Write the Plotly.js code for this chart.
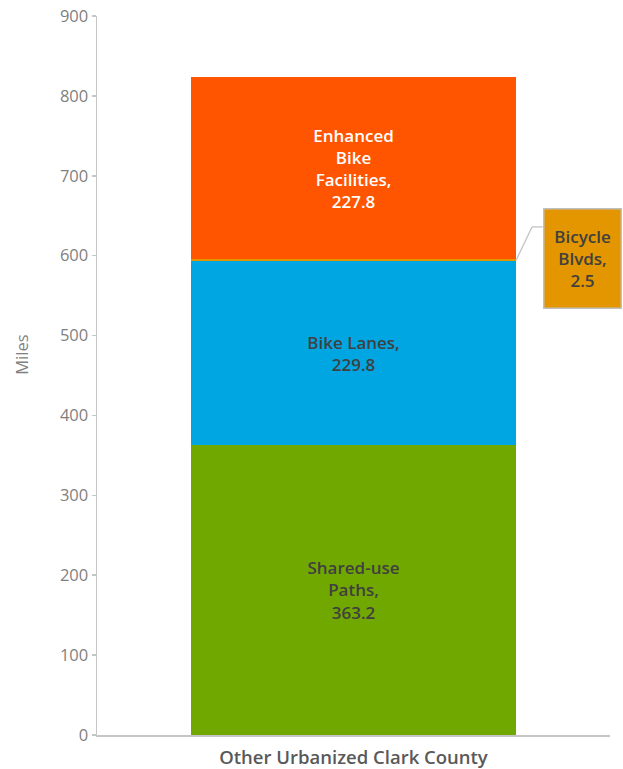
<!DOCTYPE html>
<html>
<head>
<meta charset="utf-8">
<script src="https://cdn.plot.ly/plotly-3.0.1.min.js"></script>
<style>
  html, body { margin: 0; padding: 0; background: #ffffff; }
  #chart { width: 623px; height: 769px; }
</style>
</head>
<body>
<div id="chart"></div>
<script>
// ---- Data ----
const categories = ["Other Urbanized Clark County"];
const seriesNames = ["Shared-use Paths", "Bike Lanes", "Bicycle Blvds", "Enhanced Bike Facilities"];
const sharedUsePaths = [363.2];
const bikeLanes = [229.8];
const bicycleBlvds = [2.5];
const enhancedBikeFacilities = [227.8];
const labelPrefixes = ["Shared-use<br>Paths,", "Bike Lanes,", "Bicycle<br>Blvds,", "Enhanced<br>Bike<br>Facilities,"];
const yTickVals = [0, 100, 200, 300, 400, 500, 600, 700, 800, 900];
const yAxisTitle = "Miles";

// ---- Styles ----
const FONT = "'Open Sans', Lato, sans-serif";
const colors = ["#70A800", "#00A6E2", "#E39600", "#FF5500"];
const textColors = ["#404040", "#404040", "#404040", "#ffffff"];
const axisGray = "#c6c6c6";
const bargap = 0.366;
const halfBar = (1 - bargap) / 2;

const seriesValues = [sharedUsePaths, bikeLanes, bicycleBlvds, enhancedBikeFacilities];

const traces = seriesValues.map((vals, i) => ({
  type: "bar",
  name: seriesNames[i],
  x: categories,
  y: vals,
  marker: { color: colors[i], line: { width: 0 } },
  text: i === 2 ? vals.map(() => "") : vals.map(v => labelPrefixes[i] + "<br>" + v.toFixed(1)),
  textposition: i === 2 ? "none" : "inside",
  insidetextanchor: "middle",
  textangle: 0,
  constraintext: "none",
  textfont: { family: FONT, size: 17, color: textColors[i], weight: 600 },
  hoverinfo: "name+y"
}));

const blvdMid = sharedUsePaths[0] + bikeLanes[0] + bicycleBlvds[0] / 2;
const elbowY = 636;
const elbowX = 0.348;
const boxX = 0.369;

const layout = {
  width: 623,
  height: 769,
  margin: { l: 97, r: 13, t: 16, b: 34 },
  paper_bgcolor: "#ffffff",
  plot_bgcolor: "#ffffff",
  barmode: "stack",
  bargap: bargap,
  showlegend: false,
  font: { family: FONT, color: "#7f7f7f" },
  xaxis: {
    type: "category",
    range: [-0.5, 0.5],
    showline: true,
    linecolor: axisGray,
    linewidth: 1.5,
    ticks: "",
    ticklabelstandoff: 5,
    showgrid: false,
    zeroline: false,
    tickfont: { family: FONT, size: 18.5, color: "#595959", weight: 600 },
    fixedrange: true
  },
  yaxis: {
    range: [0, 900],
    tickvals: yTickVals,
    ticktext: yTickVals.map(String),
    showline: true,
    linecolor: axisGray,
    linewidth: 1.5,
    ticks: "outside",
    ticklen: 4,
    tickwidth: 1.5,
    tickcolor: axisGray,
    showgrid: false,
    zeroline: false,
    tickfont: { family: FONT, size: 16.5, color: "#7f7f7f" },
    fixedrange: true
  },
  shapes: [
    { type: "line", xref: "x", yref: "y", x0: halfBar, y0: blvdMid, x1: elbowX, y1: elbowY,
      line: { color: "#bfbfbf", width: 1.2 } },
    { type: "line", xref: "x", yref: "y", x0: elbowX, y0: elbowY, x1: boxX, y1: elbowY,
      line: { color: "#bfbfbf", width: 1.2 } }
  ],
  annotations: [
    {
      xref: "x", yref: "y",
      x: boxX, y: 597,
      xanchor: "left", yanchor: "middle",
      text: labelPrefixes[2] + "<br>" + bicycleBlvds[0].toFixed(1),
      showarrow: false,
      bgcolor: colors[2],
      bordercolor: "#c0c0c0",
      borderwidth: 1.5,
      borderpad: 0,
      width: 76,
      height: 98,
      font: { family: FONT, size: 17, color: "#404040", weight: 600 }
    },
    {
      xref: "paper", yref: "paper",
      x: -0.146, y: 0.529,
      xanchor: "center", yanchor: "middle",
      text: yAxisTitle,
      textangle: -90,
      showarrow: false,
      font: { family: FONT, size: 16.5, color: "#7f7f7f" }
    }
  ]
};

Plotly.newPlot("chart", traces, layout, { displayModeBar: false, staticPlot: true });
</script>
</body>
</html>
